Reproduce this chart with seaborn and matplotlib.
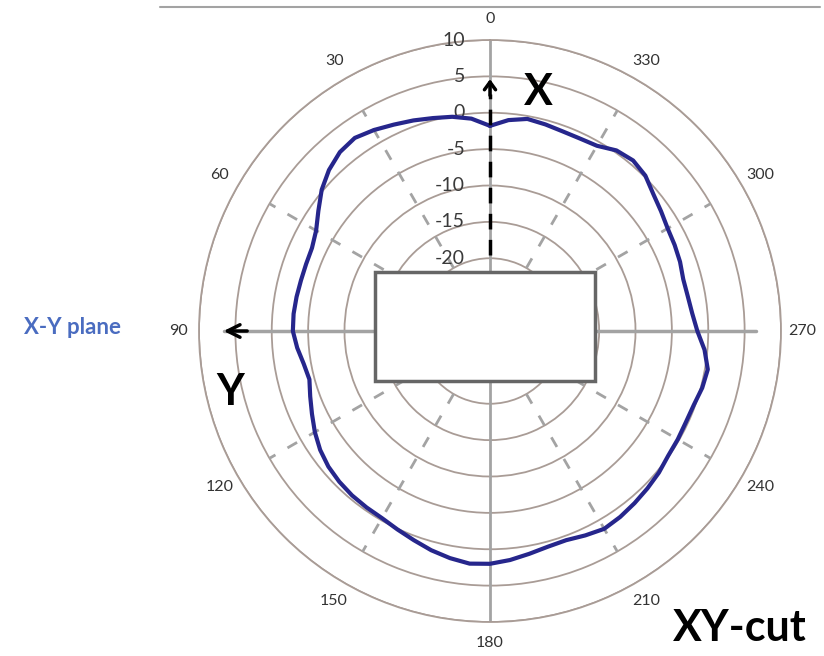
import numpy as np
import pandas as pd
import matplotlib
matplotlib.use('Agg')
import matplotlib.pyplot as plt
from matplotlib.patches import Rectangle
from matplotlib.lines import Line2D
import seaborn as sns

# measured XY-cut pattern, dB, angle counter-clockwise from X (top)
ANGLES = list(range(0, 360, 5))
GAIN_DB = [-1.8, -0.7, -0.1, 0.3, 0.8, 1.3, 1.9, 2.4, 2.1, 1.3,
           0.2, -1.2, -2.4, -3.0, -3.1, -3.1, -3.0, -2.9, -2.9, -3.4,
           -4.0, -4.3, -3.7, -3.0, -2.2, -1.5, -1.0, -0.7, -0.5, -0.4,
           -0.3, 0.1, 0.6, 1.2, 1.7, 2.1, 2.0, 1.6, 1.1, 0.7,
           0.6, 1.0, 1.4, 1.2, 0.9, 0.6, 0.3, -0.1, -0.2, -0.3,
           -0.2, 0.2, 0.4, -0.4, -1.5, -2.1, -2.4, -2.5, -2.2, -2.0,
           -1.8, -1.3, -0.7, 0.2, 0.6, 0.3, -0.6, -0.8, -0.8, -0.6,
           -0.4, -0.9]
RING_VALUES = [-20, -15, -10, -5, 0, 5, 10]
ANGLE_TICKS = list(range(0, 360, 30))
SPOKE_ANGLES = [30, 60, 120, 150, 210, 240, 300, 330]

W, H = 824, 656
CX, CY, R = 490, 331, 291
RING_COLOR = '#a99c96'
AXIS_GRAY = '#a3a3a3'
CURVE_COLOR = '#26268c'

sns.set_style('white')
plt.rcParams['font.family'] = ['Lato', 'DejaVu Sans']

df = pd.DataFrame({'theta': np.deg2rad(ANGLES + [ANGLES[0]]),
                   'gain': GAIN_DB + [GAIN_DB[0]]})

fig = plt.figure(figsize=(W / 100, H / 100), dpi=100)
ax = fig.add_axes([(CX - R) / W, (H - CY - R) / H, 2 * R / W, 2 * R / H],
                  projection='polar')
ax.set_theta_zero_location('N')
ax.set_theta_direction(1)
ax.set_ylim(-30, 10)

ax.set_yticks(RING_VALUES)
ax.set_yticklabels([])
ax.yaxis.grid(True, color=RING_COLOR, lw=1.3)
ax.xaxis.grid(False)
ax.spines['polar'].set_color(RING_COLOR)
ax.spines['polar'].set_linewidth(1.3)

ax.set_xticks(np.deg2rad(ANGLE_TICKS))
ax.set_xticklabels([str(a) for a in ANGLE_TICKS], fontsize=11.5, color='#333333')
ax.tick_params(axis='x', pad=8, length=0)

# radial value labels next to the vertical axis
for v in RING_VALUES:
    ax.annotate(str(v), xy=(0, v), xytext=(-18, 0), textcoords='offset points',
                ha='right', va='center', fontsize=14, color='#3a3a3a')

# dashed spokes
for a in SPOKE_ANGLES:
    t = np.deg2rad(a)
    ax.plot([t, t], [-20, 5], color=AXIS_GRAY, lw=2, ls=(0, (4, 5)), zorder=2)

# axis lines
ax.plot([0, 0], [-30, 10], color=AXIS_GRAY, lw=2, zorder=2)
ax.plot([np.pi, np.pi], [-30, 10], color=AXIS_GRAY, lw=2, zorder=2)
ax.plot([np.pi / 2, np.pi / 2], [-30, 6.5], color=AXIS_GRAY, lw=2.5, zorder=2)
ax.plot([3 * np.pi / 2, 3 * np.pi / 2], [-30, 6.5], color=AXIS_GRAY, lw=2.5, zorder=2)

sns.lineplot(data=df, x='theta', y='gain', sort=False, estimator=None,
             color=CURVE_COLOR, lw=3, ax=ax, zorder=3,
             solid_joinstyle='round', solid_capstyle='round')
ax.set_xlabel('')
ax.set_ylabel('')

# X arrow (dashed) and Y arrow
ax.plot([0, 0], [-19.6, 2.6], color='black', lw=2.5, ls=(0, (4.5, 3)), zorder=4)
ax.annotate('', xy=(0, 5.0), xytext=(0, 2.0),
            arrowprops=dict(arrowstyle='->,head_length=0.55,head_width=0.4',
                            color='black', lw=2.5), zorder=4)
ax.annotate('', xy=(np.pi / 2, 7.0), xytext=(np.pi / 2, 3.0),
            arrowprops=dict(arrowstyle='->,head_length=0.9,head_width=0.45',
                            color='black', lw=2.5), zorder=4)

# center box
fig.add_artist(Rectangle((375 / W, 1 - 381 / H), 220 / W, 109 / H,
                         transform=fig.transFigure, facecolor='white',
                         edgecolor='#666666', lw=2.5))

# top rule
fig.add_artist(Line2D([160 / W, 820 / W], [1 - 7 / H, 1 - 7 / H],
                      transform=fig.transFigure, color=AXIS_GRAY, lw=1.5))

fig.text(538 / W, 1 - 92 / H, 'X', fontsize=31, fontweight='bold',
         ha='center', va='center', color='black')
fig.text(230 / W, 1 - 392 / H, 'Y', fontsize=31, fontweight='bold',
         ha='center', va='center', color='black')
fig.text(72 / W, 1 - 328 / H, 'X-Y plane', fontsize=16, fontweight='bold',
         ha='center', va='center', color='#4a6cc0')
fig.text(740 / W, 1 - 628 / H, 'XY-cut', fontsize=31, fontweight='bold',
         ha='center', va='center', color='black')

fig.savefig('out.png', dpi=100)
